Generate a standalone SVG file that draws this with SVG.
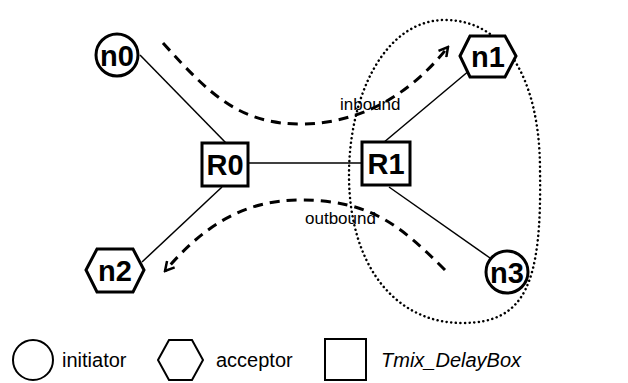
<svg xmlns="http://www.w3.org/2000/svg" width="628" height="383" viewBox="0 0 628 383">
<defs>
<style>
.shape{fill:#fff;stroke:#000;stroke-width:3}
.lbl{font-family:"Liberation Sans",Arial,sans-serif;font-weight:bold;font-size:29px;text-anchor:middle;dominant-baseline:central}
.link{stroke:#000;stroke-width:1.5;fill:none}
.flow{stroke:#000;stroke-width:3;fill:none;stroke-dasharray:10,7}
.txt{font-family:"Liberation Sans",Arial,sans-serif;font-size:17px}
.leg{font-family:"Liberation Sans",Arial,sans-serif;font-size:20px}
.legshape{fill:none;stroke:#000;stroke-width:2}
</style>
<marker id="arr" viewBox="0 0 12 12" refX="10" refY="6" markerWidth="12" markerHeight="12" markerUnits="userSpaceOnUse" orient="auto">
<path d="M1,1 L10,6 L1,11" fill="none" stroke="#000" stroke-width="2.5"/>
</marker>
</defs>
<rect width="628" height="383" fill="#fff"/>
<path d="M349,175 C349,95 385,20 445,20 C505,20 540,80 540,170 C542,285 525,323 462,323 C395,323 349,265 349,175 Z" fill="none" stroke="#000" stroke-width="2.5" stroke-dasharray="0.1,4.5" stroke-linecap="round"/>
<g id="connectors">
<line class="link" x1="140" y1="55" x2="226" y2="143"/>
<line class="link" x1="248" y1="163" x2="362" y2="163"/>
<line class="link" x1="383" y1="143" x2="470" y2="70"/>
<line class="link" x1="222" y1="187" x2="142" y2="262"/>
<line class="link" x1="389" y1="187" x2="490" y2="258"/>
<path class="flow" d="M163,43 C210,95 240,124 300,124 C360,124 410,95 448,47" marker-end="url(#arr)"/>
<path class="flow" d="M445,270 C400,225 370,200 300,200 C240,200 200,230 165,271" marker-end="url(#arr)"/>
<text class="txt" x="340" y="110">inbound</text>
<text class="txt" x="305" y="224">outbound</text>
</g>
<g id="n0"><circle class="shape" cx="117" cy="55" r="21"/><text class="lbl" x="117" y="56">n0</text></g>
<g id="n1"><polygon class="shape" points="460,56 470,36 505,36 516,56 505,77 470,77"/><text class="lbl" x="488" y="57">n1</text></g>
<g id="n2"><polygon class="shape" points="86,270 97,249 133,249 144,270 133,292 97,292"/><text class="lbl" x="115" y="271">n2</text></g>
<g id="n3"><circle class="shape" cx="507" cy="272" r="21"/><text class="lbl" x="507" y="273">n3</text></g>
<g id="R0"><rect class="shape" x="202" y="143" width="46" height="43"/><text class="lbl" x="225" y="165">R0</text></g>
<g id="R1"><rect class="shape" x="362" y="142" width="48" height="43"/><text class="lbl" x="386" y="164">R1</text></g>
<g id="legend">
<circle class="legshape" cx="33" cy="360" r="20"/>
<text class="leg" x="62" y="367">initiator</text>
<polygon class="legshape" points="158,360 169,340 192,340 203,360 192,380 169,380"/>
<text class="leg" x="216" y="367">acceptor</text>
<rect class="legshape" x="325" y="339" width="41" height="41"/>
<text class="leg" x="381" y="367" font-style="italic">Tmix_DelayBox</text>
</g>
</svg>
